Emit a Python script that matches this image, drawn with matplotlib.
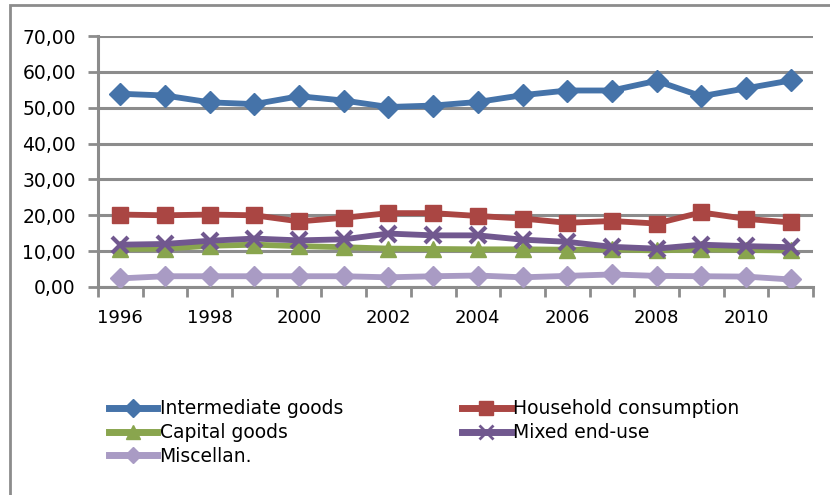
import matplotlib
matplotlib.use("Agg")
import matplotlib.pyplot as plt
from matplotlib.ticker import FuncFormatter, FixedLocator
from matplotlib.lines import Line2D
from matplotlib.patches import Rectangle

years = list(range(1996, 2012))
intermediate = [53.9, 53.4, 51.5, 51.0, 53.2, 52.0, 50.2, 50.6, 51.6, 53.5, 54.8, 54.8, 57.5, 53.2, 55.4, 57.6]
household = [20.2, 20.0, 20.2, 20.0, 18.3, 19.3, 20.6, 20.6, 19.8, 19.1, 17.9, 18.4, 17.7, 20.8, 19.0, 18.0]
capital = [10.6, 10.7, 11.5, 11.8, 11.4, 11.1, 10.7, 10.6, 10.5, 10.5, 10.4, 10.5, 10.2, 10.5, 10.3, 10.2]
mixed = [11.8, 12.0, 12.9, 13.5, 13.0, 13.3, 14.9, 14.4, 14.4, 13.2, 12.6, 11.2, 10.7, 11.8, 11.4, 11.1]
misc = [2.4, 3.0, 3.0, 3.0, 3.0, 3.0, 2.7, 3.0, 3.2, 2.7, 3.1, 3.5, 3.1, 3.0, 2.9, 2.1]

series_names = ["Intermediate goods", "Household consumption", "Capital goods", "Mixed end-use", "Miscellan."]
colors = ["#4573A9", "#AA4643", "#89A54E", "#71588F", "#A99BC4"]
markers = ["D", "s", "^", "x", "D"]
msizes = [11, 12, 12, 12, 10]
data = [intermediate, household, capital, mixed, misc]

W, H = 830, 495
fig = plt.figure(figsize=(W / 100, H / 100), dpi=100)
plt.rcParams['font.family'] = ['DejaVu Sans']

# outer chart frame (right and bottom edges fall outside the picture)
fig.patches.append(Rectangle((10 / W, -0.1), 1.2, 1.1 - 5 / H, transform=fig.transFigure,
                             fill=False, edgecolor="#8c8c8c", linewidth=2, zorder=0))

left, right, top, bottom = 98, 813, 36, 287
ax = fig.add_axes([left / W, 1 - bottom / H, (right - left) / W, (bottom - top) / H])

x = list(range(len(years)))
handles = []
for vals, name, c, m, ms in zip(data, series_names, colors, markers, msizes):
    if m == "x":
        ln, = ax.plot(x, vals, color=c, lw=4.2, marker=m, markersize=ms, markeredgewidth=3,
                      label=name, zorder=3, solid_joinstyle="round")
    else:
        ln, = ax.plot(x, vals, color=c, lw=4.2, marker=m, markersize=ms, markeredgecolor=c,
                      label=name, zorder=3, solid_joinstyle="round")
    handles.append(ln)

handles[2].set_zorder(2.5)

ax.set_ylim(0, 70)
ax.set_xlim(-0.5, len(years) - 0.5)
ax.yaxis.set_major_locator(FixedLocator(range(0, 71, 10)))
ax.yaxis.set_major_formatter(FuncFormatter(lambda v, p: f"{v:.2f}".replace(".", ",")))
ax.grid(axis="y", color="#8c8c8c", linewidth=2.2, zorder=1)
ax.set_axisbelow(True)

ax.set_xticks([i for i in x if i % 2 == 0])
ax.set_xticklabels([str(years[i]) for i in x if i % 2 == 0])
ax.set_xticks([i - 0.5 for i in range(len(years) + 1)], minor=True)
ax.tick_params(axis="x", which="major", length=0, pad=16, labelsize=13)
ax.tick_params(axis="x", which="minor", length=7, width=2, color="#8c8c8c")
ax.tick_params(axis="y", length=7, width=2, color="#8c8c8c", labelsize=13.5, pad=9)

for s in ["top", "right"]:
    ax.spines[s].set_visible(False)
for s in ["left", "bottom"]:
    ax.spines[s].set_color("#8c8c8c")
    ax.spines[s].set_linewidth(2.2)

order = [0, 2, 4, 1, 3]
leg_handles = []
for i in order:
    h = handles[i]
    leg_handles.append(Line2D([], [], color=h.get_color(), lw=5, marker=h.get_marker(),
                              markersize=h.get_markersize() * 0.85, markeredgecolor=h.get_color(),
                              markeredgewidth=2 if h.get_marker() == "x" else 1))
fig.legend(leg_handles, [series_names[i] for i in order], ncol=2, frameon=False,
           loc="upper left", bbox_to_anchor=(101 / W, 1 - 392 / H),
           handlelength=2.6, handletextpad=0.12, columnspacing=6.35,
           labelspacing=0.25, fontsize=13.5, borderaxespad=0)

fig.savefig("out.png", dpi=100)
